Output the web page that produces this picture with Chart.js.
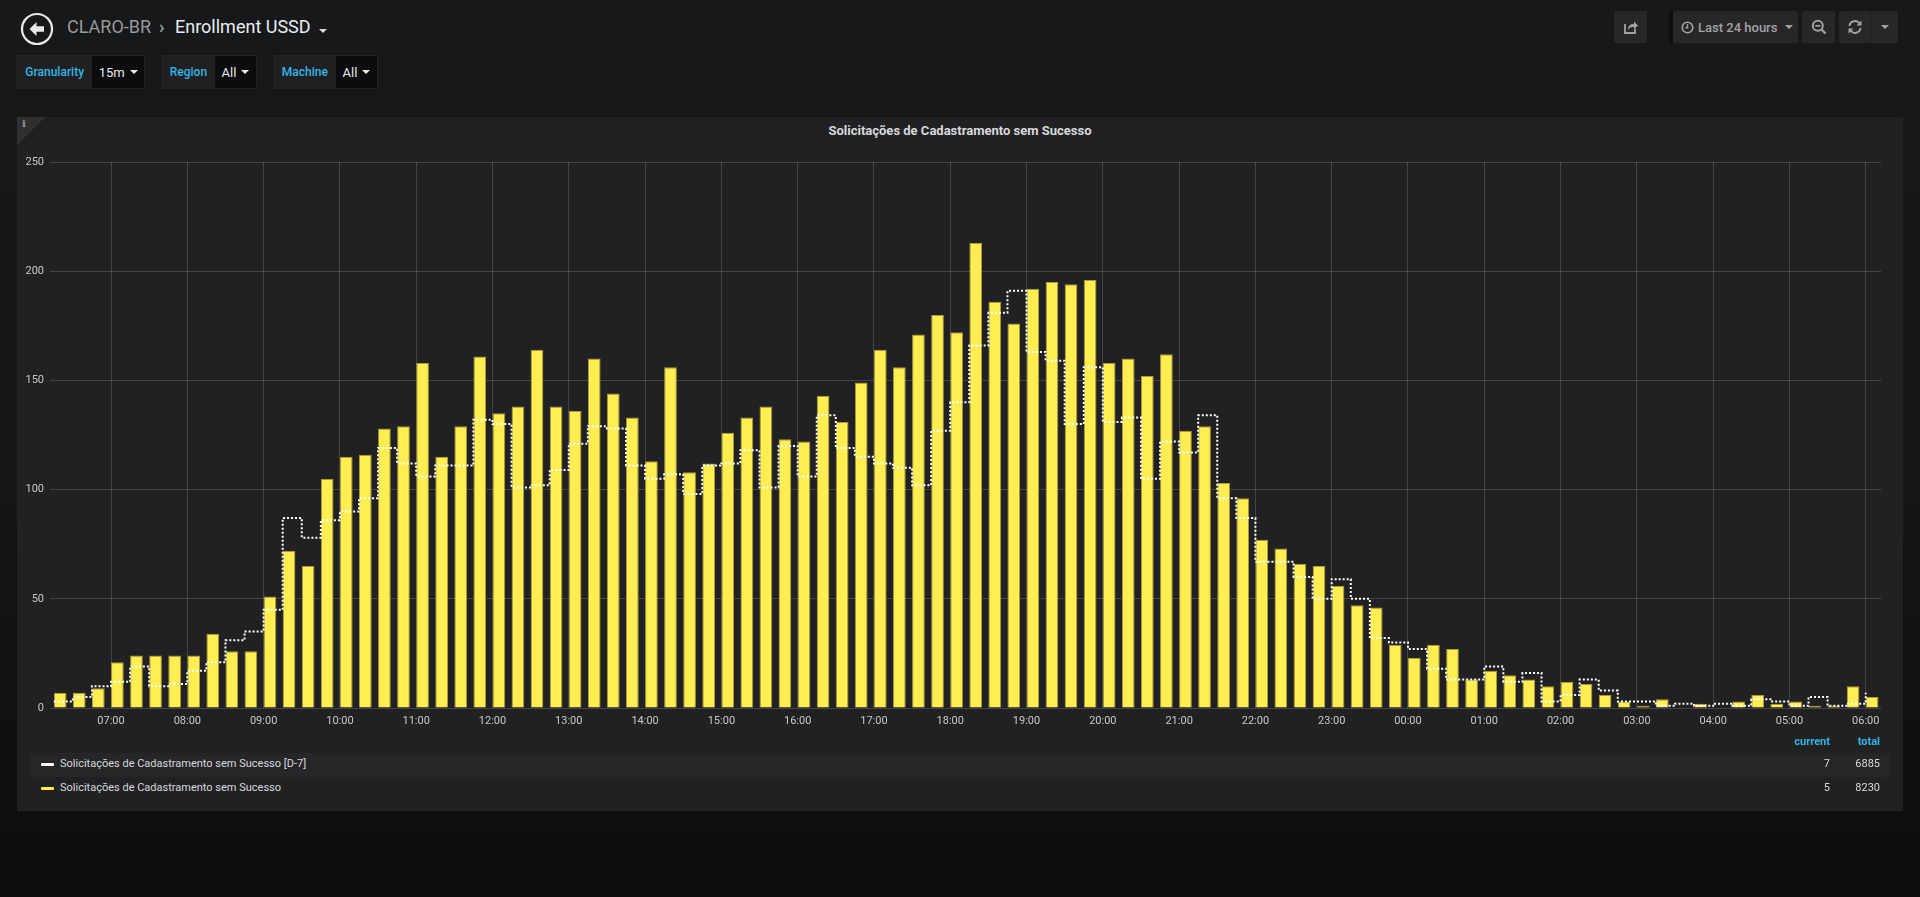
<!DOCTYPE html>
<html>
<head>
<meta charset="utf-8">
<script src="https://cdn.jsdelivr.net/npm/chart.js@4.4.1/dist/chart.umd.min.js"></script>
<style>
html,body{margin:0;padding:0;width:1920px;height:897px;overflow:hidden;font-family:Roboto,"Open Sans",sans-serif;}
body{background:linear-gradient(#171819 0%,#141517 55%,#0c0d0f 100%);position:relative;}
.abs{position:absolute;}
.crumb{top:14px;font-size:18px;line-height:26px;white-space:nowrap;}
.var{position:absolute;top:55px;height:34px;display:flex;box-sizing:border-box;border:1px solid #232326;}
.var .lab{background:#202023;color:#33b5e5;font-size:12px;font-weight:500;display:flex;align-items:center;justify-content:center;box-sizing:border-box;}
.var .val{background:#0b0c0e;color:#e8e8e8;font-size:13px;display:flex;align-items:center;justify-content:center;gap:5px;box-sizing:border-box;}
.caret{width:0;height:0;border-left:4px solid transparent;border-right:4px solid transparent;border-top:4px solid currentColor;display:inline-block;}
.btn{position:absolute;top:11px;height:32px;background:#27272a;border-radius:2px;color:#a3a3a3;display:flex;align-items:center;justify-content:center;box-sizing:border-box;}
.panel{position:absolute;left:17px;top:117px;width:1886px;height:694px;background:#212124;}
.title{position:absolute;left:17px;width:1886px;top:122px;text-align:center;color:#d8d9da;font-size:13px;font-weight:bold;line-height:17px;}
.lg{position:absolute;font-size:11px;color:#d8d9da;line-height:14px;white-space:nowrap;}
.lgh{position:absolute;font-size:11px;color:#33b5e5;font-weight:bold;line-height:14px;}
</style>
</head>
<body>
<!-- header -->
<svg class="abs" style="left:20px;top:12px" width="34" height="34" viewBox="0 0 34 34">
  <circle cx="17" cy="17" r="15" fill="none" stroke="#e8e8e8" stroke-width="2.2"/>
  <path d="M9.5 17 L16.5 10 L16.5 14.3 L24 14.3 L24 19.7 L16.5 19.7 L16.5 24 Z" fill="#e8e8e8"/>
</svg>
<div class="abs crumb" style="left:67px;color:#9a9a9a;">CLARO-BR</div>
<div class="abs crumb" style="left:159px;color:#9a9a9a;font-size:18px;font-weight:bold;">&#8250;</div>
<div class="abs crumb" style="left:175px;color:#e9edf2;">Enrollment USSD</div>
<div class="abs caret" style="left:319px;top:29px;color:#d8d9da;"></div>

<div class="var" style="left:16px;width:129px;"><div class="lab" style="width:76px">Granularity</div><div class="val" style="width:52px">15m<span class="caret"></span></div></div>
<div class="var" style="left:161px;width:96px;"><div class="lab" style="width:54px">Region</div><div class="val" style="width:42px">All<span class="caret"></span></div></div>
<div class="var" style="left:273px;width:105px;"><div class="lab" style="width:63px">Machine</div><div class="val" style="width:42px">All<span class="caret"></span></div></div>

<!-- top right buttons -->
<div class="btn" style="left:1614px;width:33px;">
  <svg width="16" height="16" viewBox="0 0 16 16"><path d="M2 5 L2 14 L12 14 L12 10" fill="none" stroke="#a3a3a3" stroke-width="1.8"/><path d="M5 11 C5 6 8 5 11 5 L11 2.5 L15 6.5 L11 10.5 L11 8 C8.5 8 6.5 8.5 5 11 Z" fill="#a3a3a3"/></svg>
</div>
<div class="abs" style="left:1669px;top:11px;width:4px;height:32px;background:#0b0c0e;"></div>
<div class="btn" style="left:1673px;width:125px;font-size:13px;font-weight:500;gap:4px;justify-content:flex-start;padding-left:8px;">
  <svg width="13" height="13" viewBox="0 0 13 13"><circle cx="6.5" cy="6.5" r="5.3" fill="none" stroke="#a3a3a3" stroke-width="1.6"/><path d="M6.5 3.3 L6.5 6.8 L4.3 6.8" fill="none" stroke="#a3a3a3" stroke-width="1.5"/></svg>
  <span>Last 24 hours</span><span class="caret" style="margin-left:4px;"></span>
</div>
<div class="btn" style="left:1802px;width:33px;">
  <svg width="16" height="16" viewBox="0 0 16 16"><circle cx="6.8" cy="6.8" r="5" fill="none" stroke="#a3a3a3" stroke-width="2"/><path d="M10.5 10.5 L14.5 14.5" stroke="#a3a3a3" stroke-width="2.4"/><path d="M4.3 6.8 L9.3 6.8" stroke="#a3a3a3" stroke-width="1.8"/></svg>
</div>
<div class="btn" style="left:1839px;width:59px;justify-content:flex-start;">
  <div style="width:32px;height:32px;display:flex;align-items:center;justify-content:center;border-right:1px solid #1d1d20;box-sizing:border-box;">
    <svg width="16" height="16" viewBox="0 0 16 16"><path d="M2.5 7 A5.5 5.5 0 0 1 12.5 4.5" fill="none" stroke="#a3a3a3" stroke-width="2"/><path d="M14.5 1.5 L14.5 6.5 L9.5 6.5 Z" fill="#a3a3a3"/><path d="M13.5 9 A5.5 5.5 0 0 1 3.5 11.5" fill="none" stroke="#a3a3a3" stroke-width="2"/><path d="M1.5 14.5 L1.5 9.5 L6.5 9.5 Z" fill="#a3a3a3"/></svg>
  </div>
  <div style="width:27px;display:flex;justify-content:center;"><span class="caret"></span></div>
</div>

<!-- panel -->
<div class="panel"></div>
<div class="abs" style="left:17px;top:117px;width:28px;height:28px;background:#303033;clip-path:polygon(0 0,100% 0,0 100%);"></div>
<div class="abs" style="left:22px;top:118px;font-size:10px;font-weight:bold;color:#9a9a9a;font-family:'DejaVu Serif',serif;">i</div>
<div class="title">Solicitações de Cadastramento sem Sucesso</div>

<canvas id="c" class="abs" style="left:17px;top:140px;width:1886px;height:600px;" width="1886" height="600"></canvas>

<!-- legend -->
<div class="abs" style="left:30px;top:753px;width:1860px;height:24px;background:#262628;"></div>
<div id="legend"></div>

<script>
// ---- data ----
const slotTimes = [
 '06:15','06:30','06:45',
 '07:00','07:15','07:30','07:45','08:00','08:15','08:30','08:45',
 '09:00','09:15','09:30','09:45','10:00','10:15','10:30','10:45',
 '11:00','11:15','11:30','11:45','12:00','12:15','12:30','12:45',
 '13:00','13:15','13:30','13:45','14:00','14:15','14:30','14:45',
 '15:00','15:15','15:30','15:45','16:00','16:15','16:30','16:45',
 '17:00','17:15','17:30','17:45','18:00','18:15','18:30','18:45',
 '19:00','19:15','19:30','19:45','20:00','20:15','20:30','20:45',
 '21:00','21:15','21:30','21:45','22:00','22:15','22:30','22:45',
 '23:00','23:15','23:30','23:45','00:00','00:15','00:30','00:45',
 '01:00','01:15','01:30','01:45','02:00','02:15','02:30','02:45',
 '03:00','03:15','03:30','03:45','04:00','04:15','04:30','04:45',
 '05:00','05:15','05:30','05:45','06:00'
];
const currentValues = [
 7,7,9,
 21,24,24,24, 24,34,26,26,
 51,72,65,105, 115,116,128,129,
 158,115,129,161, 135,138,164,138,
 136,160,144,133, 113,156,108,112,
 126,133,138,123, 122,143,131,149,
 164,156,171,180, 172,213,186,176,
 192,195,194,196, 158,160,152,162,
 127,129,103,96, 77,73,66,65,
 56,47,46,29, 23,29,27,13,
 17,15,13,10, 12,11,6,3,
 1,4,0,2, 0,3,6,2,
 3,1,1,10, 5
];
const d7Values = [
 3,5,10,
 12,19,10,11, 17,21,31,35,
 45,87,78,86, 90,96,119,112,
 106,111,111,132, 130,101,102,109,
 121,129,128,111, 105,107,98,111,
 112,118,101,120, 106,134,119,115,
 112,110,102,127, 140,166,181,191,
 163,159,130,156, 131,133,105,122,
 117,134,96,87, 67,67,60,50,
 59,50,32,30, 27,18,13,13,
 19,12,16,3, 6,13,8,3,
 3,1,2,1, 2,1,4,3,
 1,5,1,2, 7
];
const xTickLabels = ['07:00','08:00','09:00','10:00','11:00','12:00','13:00','14:00','15:00','16:00','17:00','18:00',
 '19:00','20:00','21:00','22:00','23:00','00:00','01:00','02:00','03:00','04:00','05:00','06:00'];
const yTickValues = [0,50,100,150,200,250];
const seriesNames = ['Solicitações de Cadastramento sem Sucesso [D-7]','Solicitações de Cadastramento sem Sucesso'];
const rangeStart = '06:12';
const rangeHours = 24;
const slotMinutes = 15;

// ---- helpers ----
const DAY_START = 6 * 60;
function toMin(s, allowZero) {
  const p = s.split(':').map(Number);
  let v = p[0] * 60 + p[1] - DAY_START;
  if (v < 0 || (v === 0 && !allowZero)) v += 1440;
  return v;
}
function fmt(v) {
  const t = ((v + DAY_START) % 1440 + 1440) % 1440;
  const h = Math.floor(t / 60), m = Math.round(t % 60);
  return String(h).padStart(2, '0') + ':' + String(m).padStart(2, '0');
}
const xMin = toMin(rangeStart, true);
const xMax = xMin + rangeHours * 60;
const BAR_FRACTION = 0.667;
const barShift = slotMinutes * BAR_FRACTION / 2;

const barData = slotTimes.map((t, i) => ({ x: toMin(t) + barShift, y: currentValues[i] }));
const lineData = slotTimes.map((t, i) => ({ x: toMin(t), y: d7Values[i] }));

Chart.defaults.font.family = 'Roboto, "Open Sans", sans-serif';
Chart.defaults.font.size = 11;
Chart.defaults.color = '#c8c8c8';

new Chart(document.getElementById('c'), {
  type: 'bar',
  data: {
    datasets: [
      {
        type: 'line', label: seriesNames[0], data: lineData, order: 0,
        borderColor: '#ffffff', borderWidth: 2, borderDash: [2, 2],
        stepped: true, pointRadius: 0, fill: false, tension: 0
      },
      {
        type: 'bar', label: seriesNames[1], data: barData, order: 1,
        backgroundColor: '#ffee52', borderColor: '#a99b36', borderWidth: 1,
        categoryPercentage: 1, barPercentage: BAR_FRACTION
      }
    ]
  },
  options: {
    responsive: false, animation: false, events: [],
    layout: { padding: { left: 0, right: 22, top: 22, bottom: 4 } },
    plugins: { legend: { display: false }, tooltip: { enabled: false }, title: { display: false } },
    scales: {
      x: {
        type: 'linear', min: xMin, max: xMax, offset: false,
        afterBuildTicks: s => { s.ticks = xTickLabels.map(l => ({ value: toMin(l) })); },
        afterFit: s => { s.height = 28; },
        ticks: { callback: v => fmt(v), autoSkip: false, maxRotation: 0, padding: 7, color: '#c8c8c8', font: { size: 11 } },
        grid: { color: 'rgba(255,255,255,0.16)', drawTicks: false, offset: false },
        border: { display: false }
      },
      y: {
        min: yTickValues[0], max: yTickValues[yTickValues.length - 1],
        afterBuildTicks: s => { s.ticks = yTickValues.map(v => ({ value: v })); },
        afterFit: s => { s.width = 33; },
        ticks: { padding: 6, color: '#c8c8c8', font: { size: 11 } },
        grid: { color: 'rgba(255,255,255,0.16)', drawTicks: false },
        border: { display: false }
      }
    }
  }
});

// ---- legend (table style) ----
const lg = document.getElementById('legend');
const series = [
  { name: seriesNames[0], vals: d7Values, color: '#ffffff', top: 757 },
  { name: seriesNames[1], vals: currentValues, color: '#ffee52', top: 781 }
];
let html = '<div class="lgh" style="left:1760px;width:70px;text-align:right;top:735px;">current</div>' +
           '<div class="lgh" style="left:1830px;width:50px;text-align:right;top:735px;">total</div>';
series.forEach(s => {
  const cur = s.vals[s.vals.length - 1];
  const tot = s.vals.reduce((a, b) => a + b, 0);
  html += `<div class="abs" style="left:41px;top:${s.top + 6}px;width:13px;height:3px;border-radius:1px;background:${s.color};"></div>`;
  html += `<div class="lg" style="left:60px;top:${s.top}px;">${s.name}</div>`;
  html += `<div class="lg" style="left:1760px;width:70px;text-align:right;top:${s.top}px;">${cur}</div>`;
  html += `<div class="lg" style="left:1830px;width:50px;text-align:right;top:${s.top}px;">${tot}</div>`;
});
lg.innerHTML = html;
</script>
</body>
</html>
